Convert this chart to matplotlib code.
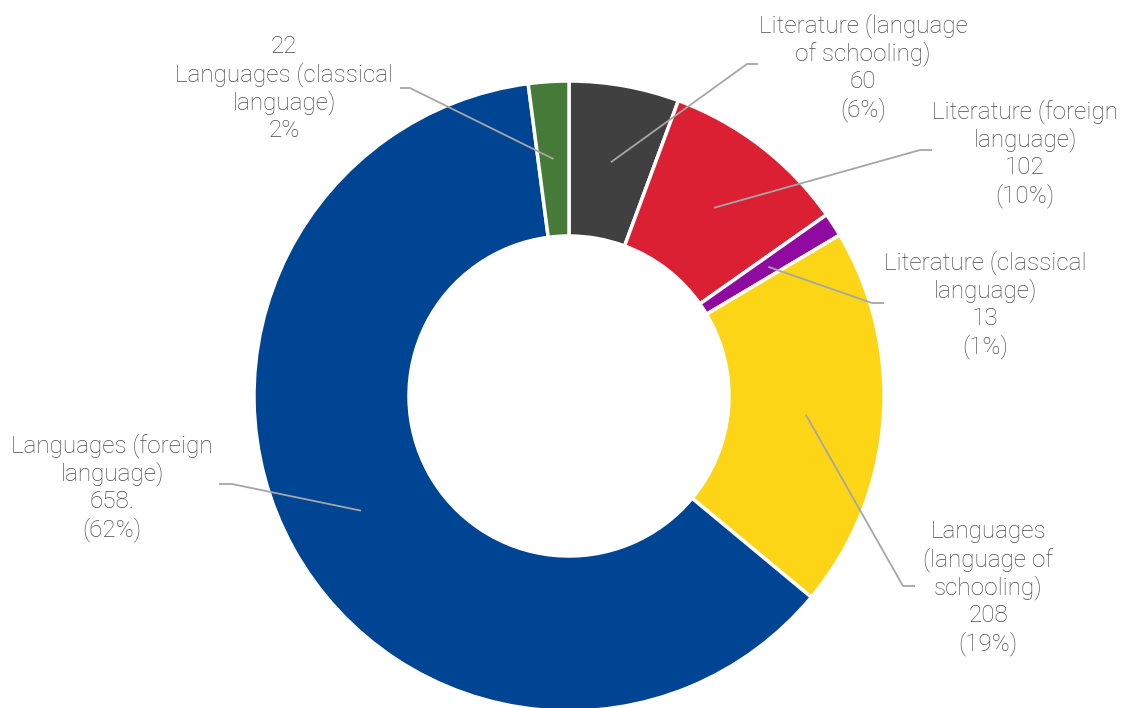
import matplotlib
matplotlib.use("Agg")
import matplotlib.pyplot as plt
import numpy as np

# Subject areas and counts, clockwise from 12 o'clock
names = [
    "Literature (language\nof schooling)",
    "Literature (foreign\nlanguage)",
    "Literature (classical\nlanguage)",
    "Languages\n(language of\nschooling)",
    "Languages (foreign\nlanguage)",
    "Languages (classical\nlanguage)",
]
values = [60, 102, 13, 208, 658, 22]
value_text = ["60", "102", "13", "208", "658.", "22"]
pct_text = ["(6%)", "(10%)", "(1%)", "(19%)", "(62%)", "2%"]
colors = ["#404040", "#DA2032", "#8E0AA0", "#FDD517", "#004494", "#467A39"]

W, H = 1147, 708
fig = plt.figure(figsize=(W / 100, H / 100), dpi=100)
ax = fig.add_axes([0, 0, 1, 1])


def py(y):
    # pixel row (from top) -> data y
    return H - y


cx, cy = 569, py(396)
r_out, r_in = 315, 160

wedges, _ = ax.pie(values, colors=colors, startangle=90, counterclock=False,
                   radius=r_out, center=(cx, cy),
                   wedgeprops=dict(width=r_out - r_in, edgecolor="white", linewidth=2.5))
ax.set_xlim(0, W)
ax.set_ylim(0, H)
ax.set_aspect("auto")
ax.axis("off")

# label placement: centre x, first baseline (pixels from top), leader elbow, leader end
label_pos = [(863, 32), (1025, 118), (985, 269), (988, 538), (112, 452), (284, 53)]
elbows = [((747, 64), (758, 64)), ((920, 150), (932, 150)), ((872, 303), (884, 303)),
          ((903, 586), (915, 586)), ((232, 484), (219, 484)), ((410, 88), (400, 88))]

txt = dict(color="#4A4A4A", family=["Roboto", "DejaVu Sans"], weight="light",
           fontsize=17.5, ha="center", va="baseline")
pitch = 28
r_mid = (r_out + r_in) / 2

for i, w in enumerate(wedges):
    if i == 5:
        lines = [value_text[i]] + names[i].split("\n") + [pct_text[i]]
    else:
        lines = names[i].split("\n") + [value_text[i], pct_text[i]]
    x0, y0 = label_pos[i]
    for k, line in enumerate(lines):
        ax.text(x0, py(y0 + k * pitch), line, **txt)

    ang = np.deg2rad((w.theta1 + w.theta2) / 2)
    ax_pt = (cx + r_mid * np.cos(ang), cy + r_mid * np.sin(ang))
    (ex, ey), (fx, fy) = elbows[i]
    ax.plot([ax_pt[0], ex, fx], [ax_pt[1], py(ey), py(fy)],
            color="#A6A6A6", lw=1.3, solid_capstyle="butt")

fig.savefig("out.png", dpi=100, facecolor="white")
